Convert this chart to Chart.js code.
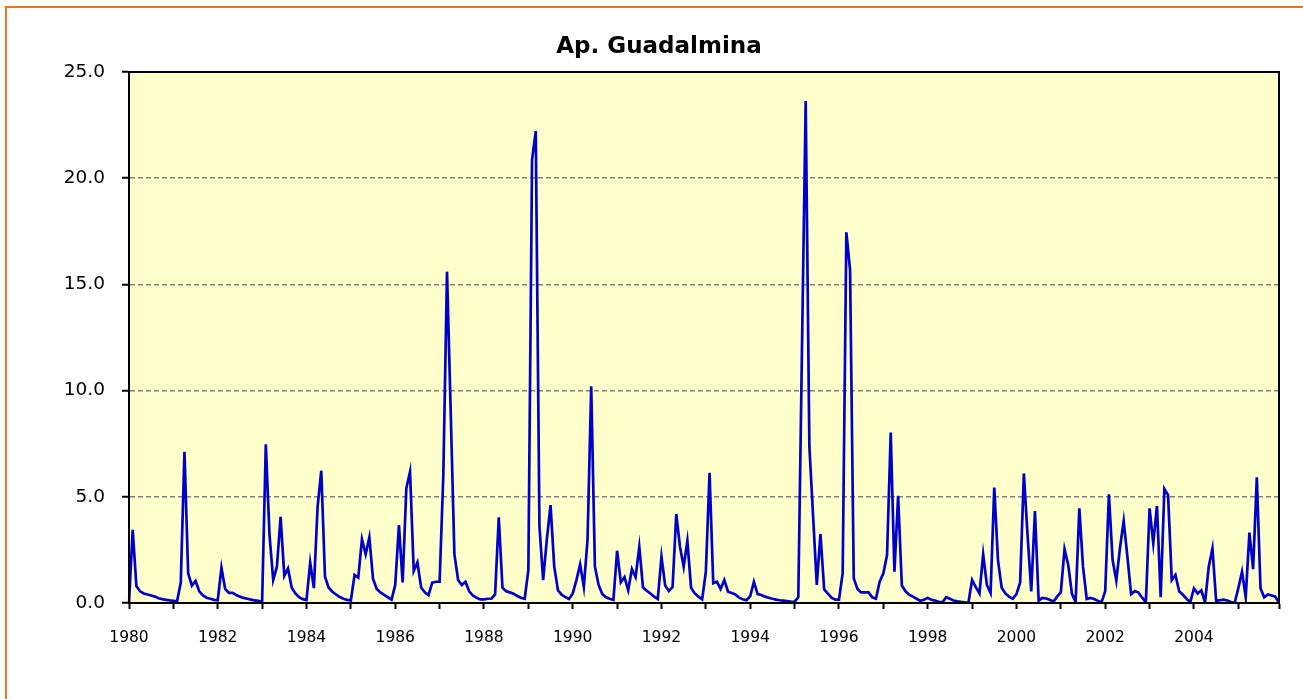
<!DOCTYPE html>
<html>
<head>
<meta charset="utf-8">
<title>Ap. Guadalmina</title>
<script src="https://cdn.jsdelivr.net/npm/chart.js@4/dist/chart.umd.min.js"></script>
<style>
  body { margin: 0; background: #ffffff; }
  #chart { display: block; }
</style>
</head>
<body>
<canvas id="chart" width="1303" height="699"></canvas>
<script>
// monthly values, Jan 1980 .. Dec 2005
const years = [1980, 1981, 1982, 1983, 1984, 1985, 1986, 1987, 1988, 1989, 1990, 1991, 1992,
               1993, 1994, 1995, 1996, 1997, 1998, 1999, 2000, 2001, 2002, 2003, 2004, 2005];

const v1980 = [0, 3.45, 0.8, 0.55, 0.45, 0.4, 0.35, 0.3, 0.22, 0.18, 0.15, 0.12];
const v1981 = [0.1, 0.08, 0.96, 7.12, 1.4, 0.82, 1.04, 0.55, 0.36, 0.25, 0.2, 0.15];
const v1982 = [0.13, 1.66, 0.66, 0.48, 0.48, 0.38, 0.3, 0.24, 0.2, 0.16, 0.12, 0.1];
const v1983 = [0.05, 7.47, 3.2, 1.08, 1.71, 4.06, 1.28, 1.63, 0.72, 0.45, 0.27, 0.18];
const v1984 = [0.14, 1.9, 0.7, 4.53, 6.23, 1.24, 0.72, 0.53, 0.4, 0.28, 0.2, 0.15];
const v1985 = [0.12, 1.32, 1.2, 3.0, 2.29, 3.09, 1.13, 0.66, 0.5, 0.38, 0.27, 0.16];
const v1986 = [0.85, 3.67, 0.97, 5.4, 6.18, 1.51, 1.91, 0.73, 0.5, 0.37, 0.96, 1.0];
const v1987 = [1.0, 6.0, 15.6, 9.0, 2.3, 1.08, 0.85, 1.0, 0.55, 0.35, 0.25, 0.17];
const v1988 = [0.17, 0.2, 0.2, 0.4, 4.03, 0.72, 0.55, 0.5, 0.44, 0.33, 0.25, 0.2];
const v1989 = [1.55, 20.86, 22.22, 3.6, 1.08, 3.0, 4.61, 1.71, 0.6, 0.39, 0.28, 0.19];
const v1990 = [0.45, 1.08, 1.82, 0.75, 2.97, 10.2, 1.71, 0.85, 0.42, 0.27, 0.2, 0.14];
const v1991 = [2.46, 0.97, 1.22, 0.6, 1.6, 1.22, 2.65, 0.74, 0.58, 0.45, 0.3, 0.19];
const v1992 = [2.18, 0.82, 0.56, 0.75, 4.19, 2.65, 1.71, 2.92, 0.72, 0.45, 0.3, 0.17];
const v1993 = [1.47, 6.13, 0.93, 1.0, 0.66, 1.08, 0.53, 0.47, 0.4, 0.25, 0.18, 0.13];
const v1994 = [0.32, 1.0, 0.42, 0.38, 0.3, 0.25, 0.2, 0.16, 0.13, 0.11, 0.09, 0.07];
const v1995 = [0.06, 0.27, 12.0, 23.63, 7.36, 4.1, 0.85, 3.25, 0.64, 0.44, 0.25, 0.16];
const v1996 = [0.16, 1.4, 17.45, 15.68, 1.16, 0.66, 0.5, 0.5, 0.5, 0.27, 0.2, 1.0];
const v1997 = [1.4, 2.26, 8.02, 1.47, 5.05, 0.82, 0.55, 0.39, 0.3, 0.2, 0.1, 0.15];
const v1998 = [0.24, 0.15, 0.11, 0.05, 0.03, 0.27, 0.2, 0.12, 0.08, 0.05, 0.03, 0.0];
const v1999 = [1.08, 0.75, 0.45, 2.29, 0.85, 0.47, 5.43, 2.02, 0.72, 0.45, 0.3, 0.2];
const v2000 = [0.42, 0.97, 6.1, 3.2, 0.55, 4.33, 0.11, 0.24, 0.21, 0.15, 0.06, 0.3];
const v2001 = [0.51, 2.54, 1.79, 0.43, 0.05, 4.46, 1.71, 0.19, 0.24, 0.19, 0.1, 0.03];
const v2002 = [0.56, 5.12, 2.02, 1.05, 2.6, 3.86, 2.18, 0.42, 0.56, 0.49, 0.25, 0.04];
const v2003 = [4.46, 2.81, 4.57, 0.27, 5.37, 5.08, 1.08, 1.32, 0.55, 0.39, 0.2, 0.03];
const v2004 = [0.69, 0.45, 0.6, 0.03, 1.71, 2.57, 0.1, 0.13, 0.16, 0.12, 0.05, 0.0];
const v2005 = [0.7, 1.47, 0.27, 3.31, 1.59, 5.92, 0.69, 0.27, 0.4, 0.35, 0.3, 0.0];

const yTicks = [0, 5, 10, 15, 20, 25];

const flow = [].concat(v1980, v1981, v1982, v1983, v1984, v1985, v1986, v1987, v1988, v1989,
                       v1990, v1991, v1992, v1993, v1994, v1995, v1996, v1997, v1998, v1999,
                       v2000, v2001, v2002, v2003, v2004, v2005);

// one category per month, label only the year
const labels = [];
years.forEach(y => {
    for (let m = 1; m <= 12; m++) labels.push(y + '-' + (m < 10 ? '0' + m : m));
});

// plot background, frame and title (Excel look)
const decor = {
    id: 'decor',
    beforeDraw(chart) {
        const { ctx, chartArea: a } = chart;
        ctx.save();
        ctx.fillStyle = '#FFFFCC';
        ctx.fillRect(a.left, a.top, a.right - a.left, a.bottom - a.top);
        ctx.restore();
    },
    afterDraw(chart) {
        const { ctx, chartArea: a } = chart;
        ctx.save();
        // plot frame
        ctx.strokeStyle = '#000000';
        ctx.lineWidth = 2;
        ctx.strokeRect(a.left, a.top, a.right - a.left, a.bottom - a.top);
        // orange outer border of the chart object
        ctx.strokeStyle = '#E8761E';
        ctx.lineWidth = 2;
        ctx.beginPath();
        ctx.moveTo(6, 720);
        ctx.lineTo(6, 7);
        ctx.lineTo(1310, 7);
        ctx.stroke();
        // title
        ctx.fillStyle = '#000000';
        ctx.font = 'bold 23px "DejaVu Sans", Verdana, sans-serif';
        ctx.textAlign = 'center';
        ctx.textBaseline = 'middle';
        ctx.fillText('Ap. Guadalmina', 659, 47);
        ctx.restore();
    }
};

new Chart(document.getElementById('chart'), {
    type: 'line',
    data: {
        labels: labels,
        datasets: [{
            label: 'Ap. Guadalmina',
            data: flow,
            borderColor: '#0000CC',
            borderWidth: 2.7,
            pointRadius: 0,
            tension: 0,
            fill: false
        }]
    },
    options: {
        responsive: false,
        animation: false,
        layout: { padding: { left: 0, top: 72, right: 24, bottom: 0 } },
        plugins: {
            legend: { display: false },
            tooltip: { enabled: false }
        },
        scales: {
            x: {
                type: 'category',
                offset: false,
                afterFit: s => { s.height = 96; },
                grid: {
                    drawOnChartArea: false,
                    drawTicks: true,
                    tickLength: 6,
                    tickWidth: 2,
                    tickColor: c => (c.index % 12 === 0 || c.index === flow.length - 1) ? '#000000' : 'rgba(0,0,0,0)'
                },
                border: { display: true, color: '#000000', width: 2 },
                ticks: {
                    autoSkip: false,
                    maxRotation: 0,
                    minRotation: 0,
                    padding: 20,
                    color: '#000000',
                    font: { family: '"DejaVu Sans", Verdana, sans-serif', size: 15.5 },
                    callback: (val, i) => (i % 24 === 0 ? labels[i].slice(0, 4) : '')
                }
            },
            y: {
                min: 0,
                max: 25,
                afterFit: s => { s.width = 129; },
                afterBuildTicks: s => { s.ticks = yTicks.map(v => ({ value: v })); },
                grid: {
                    color: c => (c.tick && (c.tick.value === 0 || c.tick.value === 25)) ? 'rgba(0,0,0,0)' : '#808080',
                    lineWidth: 1.5,
                    drawTicks: true,
                    tickLength: 7,
                    tickWidth: 2,
                    tickColor: '#000000',
                    tickBorderDash: []
                },
                border: { display: true, color: '#000000', width: 2, dash: [5, 3] },
                ticks: {
                    padding: 17,
                    color: '#000000',
                    font: { family: '"DejaVu Sans", Verdana, sans-serif', size: 18.5 },
                    callback: v => Number(v).toFixed(1)
                }
            }
        }
    },
    plugins: [decor]
});
</script>
</body>
</html>
